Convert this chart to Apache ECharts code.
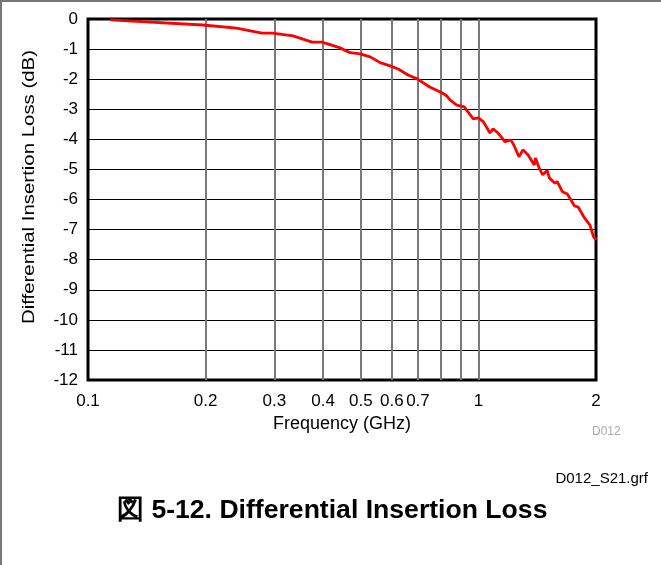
<!DOCTYPE html>
<html>
<head>
<meta charset="utf-8">
<script src="https://cdn.jsdelivr.net/npm/echarts@6/dist/echarts.min.js"></script>
<style>
  html, body { margin: 0; padding: 0; background: #fff; }
  #chart { width: 661px; height: 565px; }
</style>
</head>
<body>
<div id="chart"></div>
<script>
// frequency in GHz, loss in dB
const freq = [0.114, 0.197, 0.24, 0.279, 0.297, 0.335, 0.375, 0.397, 0.417, 0.442, 0.469, 0.498,
  0.528, 0.56, 0.594, 0.623, 0.66, 0.697, 0.75, 0.808, 0.83, 0.845, 0.88, 0.92, 0.94, 0.97,
  1.0, 1.03, 1.07, 1.09, 1.12, 1.17, 1.21, 1.23, 1.27, 1.30, 1.34, 1.39, 1.40, 1.43, 1.46,
  1.50, 1.52, 1.57, 1.59, 1.64, 1.69, 1.76, 1.80, 1.87, 1.93, 1.97, 2.0];
const loss = [-0.03, -0.2, -0.3, -0.47, -0.47, -0.56, -0.77, -0.77, -0.85, -0.96, -1.12, -1.16,
  -1.26, -1.45, -1.56, -1.66, -1.86, -1.99, -2.26, -2.46, -2.56, -2.69, -2.86, -2.92, -3.09, -3.32,
  -3.29, -3.42, -3.79, -3.65, -3.78, -4.08, -4.02, -4.17, -4.58, -4.35, -4.52, -4.85, -4.62, -4.95, -5.18,
  -5.04, -5.29, -5.46, -5.4, -5.74, -5.82, -6.21, -6.25, -6.62, -6.85, -7.23, -7.34];

const xTicks = [0.1, 0.2, 0.3, 0.4, 0.5, 0.6, 0.7, 1, 2];
const xGrid = [0.2, 0.3, 0.4, 0.5, 0.6, 0.7, 0.8, 0.9, 1];

const lg = v => Math.log10(v);
const font = 'Liberation Sans, Arial, sans-serif';

const chart = echarts.init(document.getElementById('chart'));
chart.setOption({
  animation: false,
  grid: {
    left: 88, top: 19, width: 508, height: 361,
    show: true, borderColor: '#000', borderWidth: 3
  },
  xAxis: {
    type: 'value',
    min: lg(0.1), max: lg(2),
    name: 'Frequency (GHz)',
    nameLocation: 'middle', nameGap: 34,
    nameTextStyle: { color: '#000', fontSize: 18, fontFamily: font },
    axisLine: { show: false },
    axisTick: { show: false, customValues: xGrid.map(lg) },
    splitLine: { show: true, lineStyle: { color: '#7a7a7a', width: 2 } },
    axisLabel: {
      customValues: xTicks.map(lg),
      formatter: v => String(Math.round(Math.pow(10, v) * 10) / 10),
      color: '#000', fontSize: 17, fontFamily: font, margin: 13
    }
  },
  yAxis: {
    type: 'value',
    min: -12, max: 0, interval: 1,
    axisLine: { show: false },
    axisTick: { show: false },
    splitLine: { show: true, lineStyle: { color: '#000', width: 1 } },
    axisLabel: { color: '#000', fontSize: 17, fontFamily: font, margin: 10 }
  },
  series: [{
    type: 'line',
    data: freq.map((f, i) => [lg(f), loss[i]]),
    showSymbol: false,
    lineStyle: { color: '#ff0000', width: 2.8 },
    z: 1
  }],
  graphic: [
    { type: 'line', shape: { x1: 0, y1: 1, x2: 661, y2: 1 }, style: { stroke: '#777', lineWidth: 2 } },
    { type: 'line', shape: { x1: 1, y1: 0, x2: 1, y2: 565 }, style: { stroke: '#777', lineWidth: 2 } },
    {
      type: 'text', x: 29, y: 187, rotation: Math.PI / 2, scaleX: 1.2,
      style: { text: 'Differential Insertion Loss (dB)', fill: '#000', font: '17px ' + font, align: 'center', verticalAlign: 'middle' }
    },
    { type: 'text', left: 592, top: 426, style: { text: 'D012', fill: '#aaa', font: '12px ' + font } },
    { type: 'text', right: 13, top: 471, style: { text: 'D012_S21.grf', fill: '#000', font: '15px ' + font } },
    { type: 'text', left: 117, top: 497, style: { text: '図 5-12. Differential Insertion Loss', fill: '#000', font: 'bold 26.6px ' + font } }
  ]
});
</script>
</body>
</html>
